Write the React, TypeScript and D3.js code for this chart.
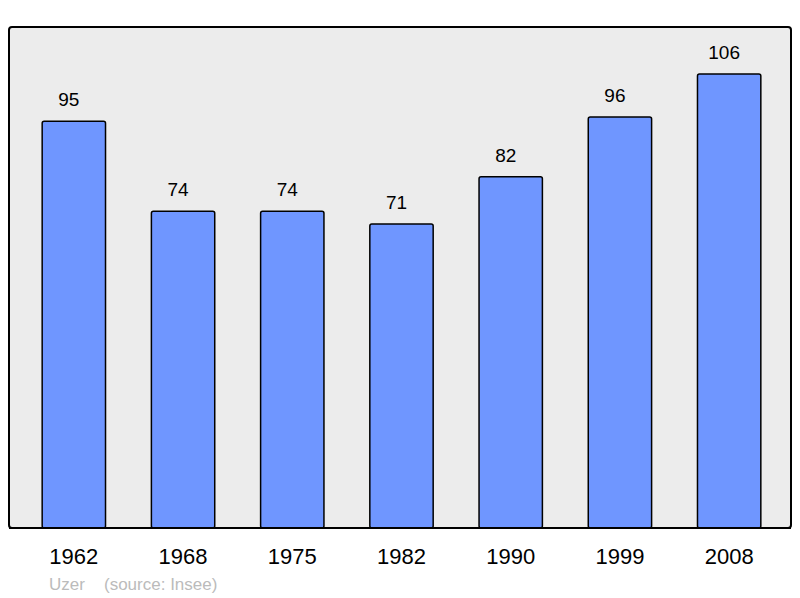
import React from 'react';
import * as d3 from 'd3';

const years = ['1962', '1968', '1975', '1982', '1990', '1999', '2008'];
const population = [95, 74, 74, 71, 82, 96, 106];
const commune = 'Uzer';
const sourceNote = '(source: Insee)';

const W = 800;
const H = 598;
const frame = { left: 9, top: 27, right: 791, bottom: 528 };

const App = () => {
  const x = d3
    .scaleBand<string>()
    .domain(years)
    .range([10.5, 792.5])
    .paddingInner(0.42)
    .paddingOuter(0.29);

  const y = d3.scaleLinear().domain([0, 117]).range([frame.bottom, frame.top]);

  const font = '"Liberation Sans", Arial, sans-serif';

  return (
    <svg
      width={W}
      height={H}
      style={{ position: 'absolute', left: 0, top: 0, fontFamily: font }}
    >
      <rect width={W} height={H} fill="#ffffff" />
      <rect
        x={frame.left}
        y={frame.top}
        width={frame.right - frame.left}
        height={frame.bottom - frame.top}
        rx={3}
        fill="#ececec"
        stroke="#000"
        strokeWidth={2}
      />
      {years.map((yr, i) => {
        const bx = x(yr)!;
        const v = population[i];
        return (
          <g key={yr}>
            <rect
              x={bx}
              y={y(v)}
              width={x.bandwidth()}
              height={frame.bottom - y(v)}
              rx={2}
              fill="#6f96ff"
              stroke="#000"
              strokeWidth={1.5}
            />
            {/* value labels sit a little left of the bar centre */}
            <text
              x={bx + x.bandwidth() / 2 - 5}
              y={y(v) - 15}
              textAnchor="middle"
              fontSize={19}
              fill="#000"
            >
              {v}
            </text>
            <text
              x={bx + x.bandwidth() / 2}
              y={564}
              textAnchor="middle"
              fontSize={22}
              fill="#000"
            >
              {yr}
            </text>
          </g>
        );
      })}
      <line
        x1={frame.left}
        x2={frame.right}
        y1={frame.bottom}
        y2={frame.bottom}
        stroke="#000"
        strokeWidth={2}
      />
      <text x={49} y={590} fontSize={17} fill="#bbbbbb">
        {commune}
      </text>
      <text x={104} y={590} fontSize={17} fill="#bbbbbb">
        {sourceNote}
      </text>
    </svg>
  );
};

export default App;
